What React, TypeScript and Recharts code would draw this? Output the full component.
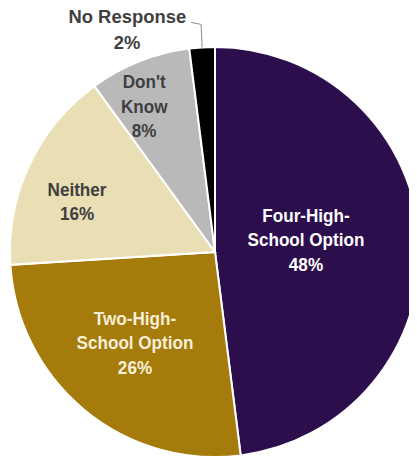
import React from 'react';
import { PieChart, Pie, Cell } from 'recharts';

const categories = ['Four-High-School Option', 'Two-High-School Option', 'Neither', "Don't Know", 'No Response'];
const values = [48, 26, 16, 8, 2];
const labelLines: string[][] = [
  ['Four-High-', 'School Option'],
  ['Two-High-', 'School Option'],
  ['Neither'],
  ["Don't", 'Know'],
  ['No Response'],
];

const colors = ['#2C0E4D', '#A57B0B', '#E9DEB4', '#B9B9B9', '#000000'];
const textColors = ['#FFFFFF', '#F7F0D8', '#3F3F3F', '#3F3F3F', '#3F3F3F'];
// label placement: radius fraction + angle nudge (deg)
const labelRadius = [0.447, 0.595, 0.715, 0.785];
const labelAngleNudge = [3.3, -1.4, 5.5, 4.5];

const data = categories.map((name, i) => ({ name, value: values[i] }));

const RAD = Math.PI / 180;
const FONT = "'Liberation Sans Narrow', 'Arial Narrow', 'Liberation Sans', Arial, sans-serif";
const LH = 24.5;
const SX = 0.9;
const SX_OUT = 0.97;

const renderLabel = (props: any) => {
  const { cx, cy, midAngle, outerRadius, index } = props;
  const lines = [...labelLines[index], `${values[index]}%`];
  if (index === 4) {
    const sx = cx + outerRadius * Math.cos(-midAngle * RAD);
    const sy = cy + outerRadius * Math.sin(-midAngle * RAD);
    const ey = sy - 23;
    const ex = sx - 1;
    const hx = ex - 10;
    return (
      <g>
        <polyline points={`${sx},${sy} ${ex},${ey} ${hx},${ey - 2}`} fill="none" stroke="#8a8a8a" strokeWidth={1} />
        <g transform={`translate(${hx - 5},${ey - 8}) scale(${SX_OUT},1)`}>
          <text x={0} y={0} textAnchor="end" fontFamily={FONT} fontWeight="bold" fontSize={19} fill={textColors[index]} dominantBaseline="central">
            {labelLines[index][0]}
          </text>
        </g>
        <g transform={`translate(${hx - 64},${ey + 18}) scale(${SX_OUT},1)`}>
          <text x={0} y={0} textAnchor="middle" fontFamily={FONT} fontWeight="bold" fontSize={19} fill={textColors[index]} dominantBaseline="central">
            {`${values[index]}%`}
          </text>
        </g>
      </g>
    );
  }
  const ang = midAngle + labelAngleNudge[index];
  const r = outerRadius * labelRadius[index];
  const x = cx + r * Math.cos(-ang * RAD);
  const y = cy + r * Math.sin(-ang * RAD);
  const top = -((lines.length - 1) * LH) / 2;
  return (
    <g transform={`translate(${x},${y - 1}) scale(${SX},1)`}>
      <text textAnchor="middle" fontFamily={FONT} fontWeight="bold" fontSize={19} fill={textColors[index]} dominantBaseline="central">
        {lines.map((l, i) => (
          <tspan key={i} x={0} y={top + i * LH}>{l}</tspan>
        ))}
      </text>
    </g>
  );
};

export default function App() {
  return (
    <div style={{ margin: '-8px 0 0 -8px', width: 417, height: 459, background: '#fff' }}>
      <PieChart width={417} height={459} margin={{ top: 0, right: 0, bottom: 0, left: 0 }}>
        <Pie
          data={data}
          dataKey="value"
          nameKey="name"
          cx={215}
          cy={252}
          outerRadius={205}
          startAngle={90}
          endAngle={-270}
          stroke="#ffffff"
          strokeWidth={2}
          label={renderLabel}
          labelLine={false}
          isAnimationActive={false}
        >
          {data.map((d, i) => (
            <Cell key={d.name} fill={colors[i]} />
          ))}
        </Pie>
      </PieChart>
    </div>
  );
}
